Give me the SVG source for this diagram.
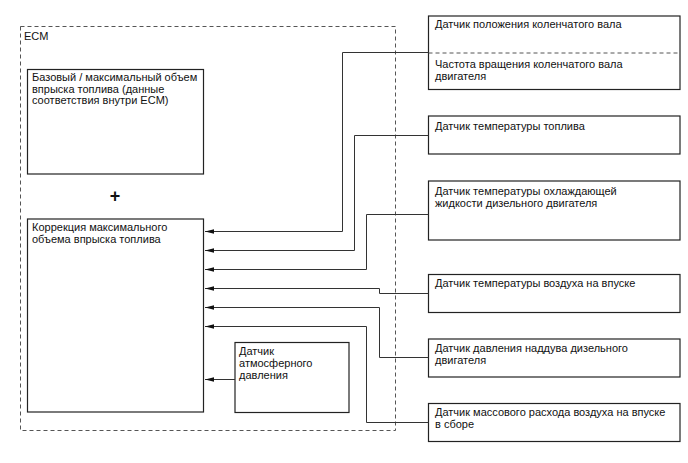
<svg xmlns="http://www.w3.org/2000/svg" width="688" height="463" viewBox="0 0 688 463">
<style>
.box{fill:#fff;stroke:#222;stroke-width:1.2}
.t{font-family:"Liberation Sans",Arial,sans-serif;font-size:11px;fill:#111}
.c{fill:none;stroke:#333;stroke-width:1}
.dash{fill:none;stroke:#555;stroke-width:1;stroke-dasharray:4,3}
</style>
<defs>
<marker id="arr" markerWidth="10" markerHeight="6" refX="9" refY="3" orient="auto" markerUnits="userSpaceOnUse">
<path d="M0,0.8 L9,3 L0,5.2 Z" fill="#111"/>
</marker>
</defs>
<rect width="688" height="463" fill="#fff"/>
<g id="ecm">
<rect class="dash" x="20.5" y="26.5" width="375" height="404"/>
<text class="t" x="24" y="40">ECM</text>
</g>
<g id="base">
<rect class="box" x="27.5" y="69.5" width="176" height="104.5"/>
<text class="t" x="32" y="81">Базовый / максимальный объем</text>
<text class="t" x="32" y="92.5">впрыска топлива (данные</text>
<text class="t" x="32" y="104">соответствия внутри ECM)</text>
</g>
<g id="plus">
<text x="115" y="202" text-anchor="middle" font-family="Liberation Sans,Arial,sans-serif" font-size="18" font-weight="bold" fill="#111">+</text>
</g>
<g id="correction">
<rect class="box" x="27.5" y="219" width="176" height="193"/>
<text class="t" x="32" y="231">Коррекция максимального</text>
<text class="t" x="32" y="243">объема впрыска топлива</text>
</g>
<g id="atm">
<rect class="box" x="235" y="342.5" width="114" height="70"/>
<text class="t" x="239" y="355">Датчик</text>
<text class="t" x="239" y="367">атмосферного</text>
<text class="t" x="239" y="379">давления</text>
</g>
<g id="crank">
<rect class="box" x="428.5" y="16" width="251.5" height="73.5"/>
<line class="dash" x1="428.5" y1="53" x2="680" y2="53"/>
<text class="t" x="435" y="28">Датчик положения коленчатого вала</text>
<text class="t" x="435" y="68">Частота вращения коленчатого вала</text>
<text class="t" x="435" y="80">двигателя</text>
</g>
<g id="fueltemp">
<rect class="box" x="428.5" y="116" width="251.5" height="38"/>
<text class="t" x="435" y="130">Датчик температуры топлива</text>
</g>
<g id="coolant">
<rect class="box" x="428.5" y="181" width="251.5" height="59"/>
<text class="t" x="435" y="195">Датчик температуры охлаждающей</text>
<text class="t" x="435" y="207">жидкости дизельного двигателя</text>
</g>
<g id="intake">
<rect class="box" x="428.5" y="274.5" width="251.5" height="38"/>
<text class="t" x="435" y="287">Датчик температуры воздуха на впуске</text>
</g>
<g id="boost">
<rect class="box" x="428.5" y="339" width="251.5" height="38"/>
<text class="t" x="435" y="352">Датчик давления наддува дизельного</text>
<text class="t" x="435" y="364">двигателя</text>
</g>
<g id="maf">
<rect class="box" x="428.5" y="403.5" width="251.5" height="38"/>
<text class="t" x="435" y="416">Датчик массового расхода воздуха на впуске</text>
<text class="t" x="435" y="428">в сборе</text>
</g>
<g id="connectors">
<polyline class="c" points="428.5,52.5 342.5,52.5 342.5,231.5 205,231.5" marker-end="url(#arr)"/>
<polyline class="c" points="428.5,135.5 354.5,135.5 354.5,250.5 205,250.5" marker-end="url(#arr)"/>
<polyline class="c" points="428.5,214.5 366.5,214.5 366.5,269.5 205,269.5" marker-end="url(#arr)"/>
<polyline class="c" points="428.5,293.5 379.5,293.5 379.5,288.5 205,288.5" marker-end="url(#arr)"/>
<polyline class="c" points="428.5,357.5 379.5,357.5 379.5,307.5 205,307.5" marker-end="url(#arr)"/>
<polyline class="c" points="428.5,422.5 366.5,422.5 366.5,326.5 205,326.5" marker-end="url(#arr)"/>
<polyline class="c" points="235,379.5 205,379.5" marker-end="url(#arr)"/>
</g>
</svg>
